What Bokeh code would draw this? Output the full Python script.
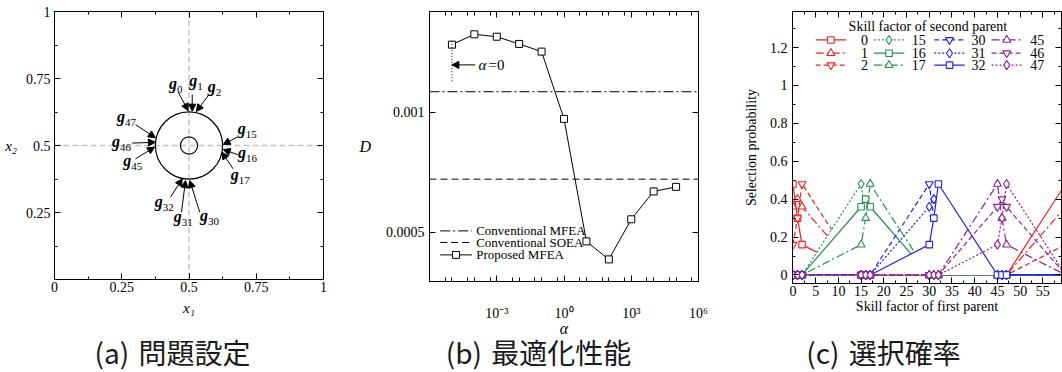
import math
from bokeh.plotting import figure
from bokeh.models import (ColumnDataSource, Span, Arrow, NormalHead, LinearAxis,
                          FixedTicker, CustomJSTickFormatter, Div, Range1d)
from bokeh.layouts import row, column
from bokeh.core.properties import value
from bokeh.embed import file_html
from bokeh.resources import INLINE

SERIF = "Liberation Serif"
CJK = "Noto Sans CJK JP"

# ---------------- data: (a) problem setting ----------------
a_ticks = [0, 0.25, 0.5, 0.75, 1]
a_minor_ticks = [0.125, 0.375, 0.625, 0.875]
circle_x = [0.5, 0.5]
circle_y = [0.5, 0.5]
circle_r = [0.125, 0.032]
guide_pos = 0.5
g_index = [0, 1, 2, 15, 16, 17, 30, 31, 32, 45, 46, 47]
g_label_x = [0.450, 0.525, 0.594, 0.715, 0.716, 0.689, 0.574, 0.477, 0.406, 0.289, 0.247, 0.266]
g_label_y = [0.721, 0.730, 0.708, 0.552, 0.462, 0.379, 0.228, 0.223, 0.280, 0.432, 0.504, 0.597]
g_tail_x = [0.460, 0.512, 0.574, 0.679, 0.681, 0.664, 0.540, 0.472, 0.431, 0.301, 0.289, 0.301]
g_tail_y = [0.699, 0.690, 0.689, 0.531, 0.466, 0.413, 0.251, 0.251, 0.307, 0.450, 0.509, 0.578]
g_head_x = [0.497, 0.512, 0.527, 0.627, 0.627, 0.622, 0.503, 0.487, 0.475, 0.372, 0.375, 0.375]
g_head_y = [0.630, 0.628, 0.627, 0.504, 0.485, 0.475, 0.369, 0.369, 0.376, 0.494, 0.512, 0.529]

# ---------------- data: (b) optimisation performance ----------------
alpha_pos = [1e-5, 1e-4, 1e-3, 1e-2, 1e-1, 1e0, 1e1, 1e2, 1e3, 1e4, 1e5]   # first point = alpha 0
D_proposed = [0.001282, 0.001325, 0.001315, 0.001285, 0.001253, 0.000973,
              0.000463, 0.000388, 0.000555, 0.000671, 0.000690]
D_conv_mfea = 0.001086
D_conv_soea = 0.000722
b_xtick_exponents = [-3, 0, 3, 6]
b_yticks = [0.0005, 0.001]
b_legend = ["Conventional MFEA", "Conventional SOEA", "Proposed MFEA"]

# ---------------- data: (c) selection probability ----------------
skill_first = [0, 1, 2, 15, 16, 17, 30, 31, 32, 45, 46, 47]
prob_0  = [0.48, 0.30, 0.16, 0, 0, 0, 0, 0, 0, 0, 0, 0]
prob_1  = [0.36, 0.40, 0.36, 0, 0, 0, 0, 0, 0, 0, 0, 0]
prob_2  = [0.16, 0.30, 0.48, 0, 0, 0, 0, 0, 0, 0, 0, 0]
prob_15 = [0, 0, 0, 0.48, 0.30, 0.16, 0, 0, 0, 0, 0, 0]
prob_16 = [0, 0, 0, 0.36, 0.40, 0.36, 0, 0, 0, 0, 0, 0]
prob_17 = [0, 0, 0, 0.16, 0.30, 0.48, 0, 0, 0, 0, 0, 0]
prob_30 = [0, 0, 0, 0, 0, 0, 0.48, 0.30, 0.16, 0, 0, 0]
prob_31 = [0, 0, 0, 0, 0, 0, 0.36, 0.40, 0.36, 0, 0, 0]
prob_32 = [0, 0, 0, 0, 0, 0, 0.16, 0.30, 0.48, 0, 0, 0]
prob_45 = [0, 0, 0, 0, 0, 0, 0, 0, 0, 0.48, 0.30, 0.16]
prob_46 = [0, 0, 0, 0, 0, 0, 0, 0, 0, 0.36, 0.40, 0.36]
prob_47 = [0, 0, 0, 0, 0, 0, 0, 0, 0, 0.16, 0.30, 0.48]
wrap_skill = 60          # skill factors lie on a circle of 60 tasks
series_ids = [0, 1, 2, 15, 16, 17, 30, 31, 32, 45, 46, 47]
series_probs = [prob_0, prob_1, prob_2, prob_15, prob_16, prob_17,
                prob_30, prob_31, prob_32, prob_45, prob_46, prob_47]
c_xticks = [0, 5, 10, 15, 20, 25, 30, 35, 40, 45, 50, 55]
c_yticks = [0, 0.2, 0.4, 0.6, 0.8, 1, 1.2]

captions = ["(a) 問題設定", "(b) 最適化性能", "(c) 選択確率"]

# ---------------- styles ----------------
RED, GREEN, BLUE, PURPLE = "#ff1a1a", "#23914f", "#1f1fff", "#8e2096"
series_colors = [RED] * 3 + [GREEN] * 3 + [BLUE] * 3 + [PURPLE] * 3
style_markers = ["square", "triangle", "inverted_triangle", "diamond"]
style_dashes = ["solid", "8 3 2 3", "5 3", "2 2"]
marker_size = {"square": 6.5, "triangle": 8, "inverted_triangle": 8, "diamond": 9}
occluding = {15, 16, 32}

# tick value is log10(alpha) -> label "10^n" with superscript exponent
EXP_FMT = """
const sup = {"-": "⁻", "0": "⁰", "1": "¹", "2": "²", "3": "³", "4": "⁴",
             "5": "⁵", "6": "⁶", "7": "⁷", "8": "⁸", "9": "⁹"};
const e = Math.round(tick);
return "10" + String(e).split("").map(c => sup[c]).join("");
"""


def base_fig(fw, fh, xr, yr, borders):
    l, r, t, b = borders
    p = figure(frame_width=fw, frame_height=fh, x_range=xr, y_range=yr,
               output_backend="svg", toolbar_location=None, title=None,
               min_border_left=l, min_border_right=r, min_border_top=t, min_border_bottom=b)
    p.grid.visible = False
    p.outline_line_color = "black"
    p.outline_line_width = 1
    p.background_fill_color = "white"
    p.border_fill_color = "white"
    return p


def style_axis(ax, ticks, minor, major_in, minor_in, fmt=None, size="14px", standoff=4):
    ax.ticker = FixedTicker(ticks=ticks, minor_ticks=minor)
    ax.major_tick_in = major_in
    ax.major_tick_out = 0
    ax.minor_tick_in = minor_in
    ax.minor_tick_out = 0
    ax.axis_line_color = "black"
    ax.major_tick_line_color = "black"
    ax.minor_tick_line_color = "black"
    if fmt is None:
        ax.formatter = CustomJSTickFormatter(code="return '';")
        ax.major_label_text_font_size = "0px"
        ax.major_label_standoff = 0
    else:
        ax.formatter = CustomJSTickFormatter(code=fmt)
        ax.major_label_text_font = SERIF
        ax.major_label_text_font_size = size
        ax.major_label_text_color = "black"
        ax.major_label_standoff = standoff


def axis_title(ax, text, size, style, standoff, horizontal=False):
    ax.axis_label = text
    ax.axis_label_text_font = SERIF
    ax.axis_label_text_font_size = size
    ax.axis_label_text_font_style = style
    ax.axis_label_text_color = "black"
    ax.axis_label_standoff = standoff
    if horizontal and "axis_label_orientation" in ax.properties():
        ax.axis_label_orientation = "horizontal"


# ======================= panel (a) =======================
FW_A, FH_A = 269, 268
pa = base_fig(FW_A, FH_A, Range1d(0, 1), Range1d(0, 1), (54, 17, 11, 55))
style_axis(pa.below[0], a_ticks, a_minor_ticks, 6, 3, "return tick.toString();", "14px", 2)
style_axis(pa.left[0], a_ticks, a_minor_ticks, 6, 3,
           "return tick == 0 ? '' : tick.toString();", "14px", 4)
axis_title(pa.below[0], "x\u2081", "15px", "italic", 5)
axis_title(pa.left[0], "x\u2082", "15px", "italic", 6, horizontal=True)
for loc in ("above", "right"):
    ax = LinearAxis()
    style_axis(ax, a_ticks, a_minor_ticks, 6, 3)
    pa.add_layout(ax, loc)

for dim in ("height", "width"):
    pa.add_layout(Span(location=guide_pos, dimension=dim, line_color="#c4c4c4",
                       line_width=1.5, line_dash="6 3", level="underlay"))

pa.circle(x=circle_x, y=circle_y, radius=circle_r, fill_color=None,
          line_color="black", line_width=1.2)

arr_src = ColumnDataSource(dict(x0=g_tail_x, y0=g_tail_y, x1=g_head_x, y1=g_head_y))
pa.add_layout(Arrow(end=NormalHead(size=7, fill_color="black", line_color="black", line_width=1),
                    x_start="x0", y_start="y0", x_end="x1", y_end="y1", source=arr_src,
                    line_color="black", line_width=1))

subs = [str(n) for n in g_index]
g_off = [-(8 + 5 * len(s)) / 2 + 8 for s in subs]
g_src = ColumnDataSource(dict(
    x=g_label_x,
    yg=[y + 3 / FH_A for y in g_label_y],
    ys=[y - 3 / FH_A for y in g_label_y],
    g=["g"] * len(subs), sub=subs, off=g_off))
pa.text(x="x", y="yg", text="g", x_offset="off", source=g_src, text_font=value(SERIF),
        text_font_size="16px", text_font_style="bold italic", text_align="right",
        text_baseline="middle", text_color="black")
pa.text(x="x", y="ys", text="sub", x_offset="off", source=g_src, text_font=value(SERIF),
        text_font_size="11px", text_align="left", text_baseline="middle", text_color="black")

# ======================= panel (b) =======================
# x is drawn on a decade axis: position = log10(alpha)
FW_B, FH_B = 269, 270
X0_B, X1_B = -6.0, 6.0
Y0_B, Y1_B = 0.000296, 0.00142
pb = base_fig(FW_B, FH_B, Range1d(X0_B, X1_B), Range1d(Y0_B, Y1_B), (89, 42, 7, 57))


def bx(px):
    return X0_B + (X1_B - X0_B) * px / FW_B


def by(py):
    return Y1_B - (Y1_B - Y0_B) * py / FH_B


b_minor = []
for n in range(-6, 6):
    if n % 3 != 0:
        b_minor.append(float(n))
    b_minor.append(n + math.log10(5))

style_axis(pb.below[0], b_xtick_exponents, b_minor, 6, 4, EXP_FMT, "14px", 24)
axis_title(pb.below[0], "α", "16px", "italic", -4)
ax = LinearAxis()
style_axis(ax, b_xtick_exponents, b_minor, 6, 4)
pb.add_layout(ax, "above")
style_axis(pb.left[0], b_yticks, [], 6, 3, "return tick.toString();", "14px", 5)
axis_title(pb.left[0], "D", "16px", "italic", 12, horizontal=True)
ax = LinearAxis()
style_axis(ax, b_yticks, [], 6, 3)
pb.add_layout(ax, "right")

pb.add_layout(Span(location=D_conv_mfea, dimension="width", line_color="black",
                   line_width=1, line_dash="10 3 2 3"))
pb.add_layout(Span(location=D_conv_soea, dimension="width", line_color="black",
                   line_width=1, line_dash="7 4"))
alpha_dec = [math.log10(a) for a in alpha_pos]
pb.line(alpha_dec, D_proposed, line_color="black", line_width=1)
pb.scatter(alpha_dec, D_proposed, marker="square", size=7, fill_color="white",
           line_color="black", line_width=1)

# alpha = 0 marker
pb.line([alpha_dec[0], alpha_dec[0]], [by(29.7), by(70.4)], line_color="black",
        line_width=1, line_dash="1 2")
pb.add_layout(Arrow(end=NormalHead(size=7, fill_color="black", line_color="black", line_width=1),
                    x_start=bx(45.7), y_start=by(53.4), x_end=alpha_dec[0], y_end=by(53.4),
                    line_color="black", line_width=1))
pb.text(x=[bx(49)], y=[by(53.4)], text=["α"], text_font=value(SERIF), text_font_size="15px",
        text_font_style="italic", text_align="left", text_baseline="middle", text_color="black")
pb.text(x=[bx(59)], y=[by(53.4)], text=["=0"], text_font=value(SERIF), text_font_size="15px",
        text_align="left", text_baseline="middle", text_color="black")

# legend (b)
leg_rows = [219.4, 231.0, 243.4]
leg_dash = ["10 3 2 3", "7 4", "solid"]
for i, name in enumerate(b_legend):
    y = by(leg_rows[i])
    pb.line([bx(10.7), bx(42.4)], [y, y], line_color="black", line_width=1, line_dash=leg_dash[i])
    if i == 2:
        pb.scatter([bx(26.5)], [y], marker="square", size=7, fill_color="white",
                   line_color="black", line_width=1)
    pb.text(x=[bx(46.7)], y=[y], text=[name], text_font=value(SERIF), text_font_size="13px",
            text_align="left", text_baseline="middle", text_color="black")

# ======================= panel (c) =======================
FW_C, FH_C = 269, 272
pc = base_fig(FW_C, FH_C, Range1d(-0.1, 59.1), Range1d(-0.045, 1.39), (51, 2, 7, 55))
c_xminor = [t + 2.5 for t in c_xticks]
c_yminor = [0.1, 0.3, 0.5, 0.7, 0.9, 1.1, 1.3]
style_axis(pc.below[0], c_xticks, c_xminor, 6, 3, "return tick.toString();", "14px", 2)
style_axis(pc.left[0], c_yticks, c_yminor, 6, 3, "return tick.toString();", "14px", 5)
axis_title(pc.below[0], "Skill factor of first parent", "14px", "normal", 0)
axis_title(pc.left[0], "Selection probability", "14px", "normal", 8)
for loc, tk, mn in (("above", c_xticks, c_xminor), ("right", c_yticks, c_yminor)):
    ax = LinearAxis()
    style_axis(ax, tk, mn, 6, 3)
    pc.add_layout(ax, loc)

for i, (sid, probs, col) in enumerate(zip(series_ids, series_probs, series_colors)):
    xs = skill_first + [wrap_skill]
    ys = probs + [probs[0]]
    mk = style_markers[i % 4]
    if sid in occluding:
        pc.patch(xs, ys, fill_color="white", line_color=None)
    pc.line(xs, ys, line_color=col, line_width=1.2, line_dash=style_dashes[i % 4])
    pc.scatter(skill_first, probs, marker=mk, size=marker_size[mk], fill_color="white",
               line_color=col, line_width=1.1)

# legend (c)
leg_c_title = (29.7, 1.309)
leg_c_x0 = [5.0, 17.8, 31.1, 43.7]
leg_c_len = 6.7
leg_c_num_right = [16.5, 29.2, 42.4, 55.3]
leg_c_rows = [1.240, 1.170, 1.107]
pc.text(x=[leg_c_title[0]], y=[leg_c_title[1]], text=["Skill factor of second parent"],
        text_font=value(SERIF), text_font_size="14px", text_align="center",
        text_baseline="middle", text_color="black")
for i, (sid, col) in enumerate(zip(series_ids, series_colors)):
    ci, ri = i // 3, i % 3
    x0 = leg_c_x0[ci]
    y = leg_c_rows[ri]
    mk = style_markers[i % 4]
    pc.line([x0, x0 + leg_c_len], [y, y], line_color=col, line_width=1.2,
            line_dash=style_dashes[i % 4])
    pc.scatter([x0 + leg_c_len / 2], [y], marker=mk, size=marker_size[mk], fill_color="white",
               line_color=col, line_width=1.1)
    pc.text(x=[leg_c_num_right[ci]], y=[y], text=[str(sid)], text_font=value(SERIF),
            text_font_size="14px", text_align="right", text_baseline="middle",
            text_color="black")


# ======================= captions =======================
def caption(txt, w):
    html = (f'<div style="width:{w}px;text-align:center;font-family:\'{CJK}\';'
            f'font-size:28px;line-height:34px;color:#1a1a1a;word-spacing:3px">{txt}</div>')
    return Div(text=html, width=w, height=34, margin=(0, 0, 0, 0))


caps = row(caption(captions[0], 345), caption(captions[1], 387), caption(captions[2], 303))
layout = column(row(pa, pb, pc), caps)

open("out.html", "w").write(file_html(layout, INLINE))
